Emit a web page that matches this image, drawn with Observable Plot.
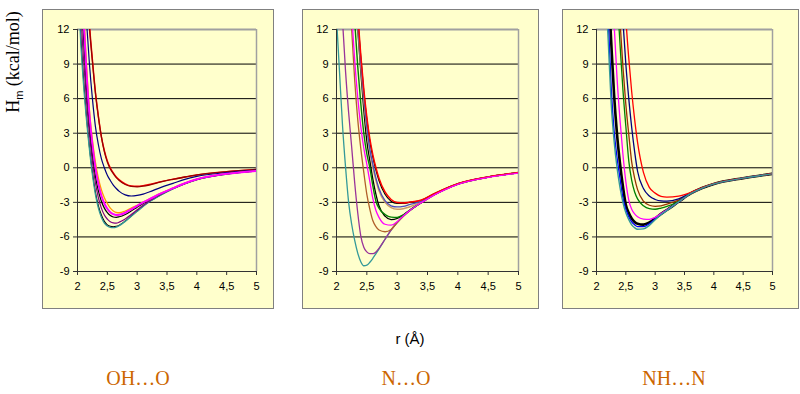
<!DOCTYPE html>
<html><head><meta charset="utf-8">
<script src="https://cdn.jsdelivr.net/npm/d3@7"></script>
<script src="https://cdn.jsdelivr.net/npm/@observablehq/plot@0.6"></script>
<style>
body{margin:0;background:#fff;}
#wrap{position:relative;width:800px;height:394px;overflow:hidden;background:#fff;font-family:"Liberation Sans",Arial,sans-serif;}
.panel{position:absolute;top:9px;}
.panel svg{display:block;outline:1px solid #808080;outline-offset:-1px;}
.lbl{position:absolute;transform:translate(-50%,-50%);white-space:nowrap;}
</style></head><body><div id="wrap"></div><script>
// ---------- data ----------
const panelNames = ["OH…O", "N…O", "NH…N"];
const xTicks = [2, 2.5, 3, 3.5, 4, 4.5, 5];
const xTickLabels = ["2", "2,5", "3", "3,5", "4", "4,5", "5"];
const yTicks = [-9, -6, -3, 0, 3, 6, 9, 12];
const yTickLabels = ["-9", "-6", "-3", "0", "3", "6", "9", "12"];
const rGrid = [2.0,2.05,2.1,2.15,2.2,2.25,2.3,2.35,2.4,2.45,2.5,2.55,2.6,2.65,2.7,2.8,2.9,3.0,3.1,3.2,3.4,3.6,3.8,4.0,4.5,5.0];

// OH...O
const ohRed     = [null,null,null,17,12.5,9.4,6.6,4.5,2.7,1.5,0.6,0.0,-0.45,-0.8,-1.05,-1.4,-1.58,-1.6,-1.55,-1.45,-1.2,-0.98,-0.8,-0.63,-0.35,-0.15];
const ohDarkRed = [null,null,null,16.5,12.2,9.2,6.5,4.4,2.7,1.4,0.5,-0.1,-0.5,-0.85,-1.1,-1.45,-1.62,-1.65,-1.6,-1.5,-1.22,-1.0,-0.8,-0.62,-0.33,-0.13];
const ohNavy    = [null,null,17,12.8,9.0,6.0,3.6,2.0,0.8,0.0,-0.65,-1.1,-1.5,-1.8,-2.05,-2.35,-2.45,-2.4,-2.28,-2.1,-1.7,-1.35,-1.0,-0.75,-0.42,-0.2];
const ohOrange  = [null,20,14,9,5.0,2.4,0.5,-0.9,-1.9,-2.6,-3.1,-3.5,-3.75,-3.88,-3.9,-3.75,-3.5,-3.25,-2.98,-2.72,-2.2,-1.76,-1.33,-0.98,-0.52,-0.26];
const ohMagenta = [null,19,13,8.3,4.6,2.0,0.0,-1.4,-2.4,-3.1,-3.55,-3.85,-4.02,-4.1,-4.08,-3.9,-3.6,-3.3,-3.0,-2.75,-2.22,-1.77,-1.34,-0.99,-0.52,-0.27];
const ohBlack   = [null,17,11.4,7.0,3.7,1.2,-0.7,-2.0,-2.9,-3.5,-3.9,-4.15,-4.27,-4.3,-4.25,-4.05,-3.75,-3.42,-3.1,-2.8,-2.25,-1.78,-1.35,-1.0,-0.53,-0.27];
const ohPurple  = [20,14,9.5,5.8,2.9,0.5,-1.3,-2.6,-3.5,-4.1,-4.45,-4.68,-4.78,-4.8,-4.72,-4.45,-4.05,-3.65,-3.25,-2.9,-2.3,-1.8,-1.37,-1.02,-0.54,-0.28];
const ohBlack2  = [18,12,7.8,4.5,1.8,-0.4,-2.1,-3.3,-4.1,-4.65,-4.95,-5.08,-5.12,-5.08,-4.98,-4.62,-4.18,-3.75,-3.33,-2.96,-2.35,-1.83,-1.38,-1.03,-0.55,-0.28];
const ohTeal    = [17,11.3,7.3,4.2,1.6,-0.6,-2.3,-3.5,-4.3,-4.8,-5.05,-5.18,-5.2,-5.15,-5.02,-4.65,-4.2,-3.78,-3.35,-2.97,-2.35,-1.83,-1.38,-1.03,-0.55,-0.28];

// N...O
const noTeal    = [13,8.3,3.6,0.0,-3.0,-4.9,-6.3,-7.4,-8.15,-8.5,-8.45,-8.2,-7.85,-7.45,-7.05,-6.2,-5.4,-4.75,-4.2,-3.75,-3.02,-2.37,-1.85,-1.42,-0.82,-0.43];
const noPurple  = [null,16,12.7,8.3,4.8,1.8,-1.3,-3.9,-5.9,-6.9,-7.3,-7.45,-7.45,-7.3,-7.0,-6.2,-5.4,-4.75,-4.2,-3.75,-3.02,-2.37,-1.85,-1.42,-0.82,-0.43];
const noBrown   = [null,null,null,null,15.5,12.0,7.6,4.2,1.7,-0.4,-2.3,-3.6,-4.6,-5.1,-5.4,-5.55,-5.35,-4.75,-4.2,-3.75,-3.02,-2.37,-1.85,-1.42,-0.82,-0.43];
const noMagenta = [null,null,null,null,18,13.3,9.3,6.1,3.6,1.7,0.3,-1.2,-2.7,-3.7,-4.3,-4.9,-4.98,-4.68,-4.18,-3.74,-3.02,-2.39,-1.87,-1.44,-0.84,-0.45];
const noGreen   = [null,null,null,null,null,17,12.7,8.8,5.6,3.0,1.2,0.0,-1.6,-2.9,-3.5,-4.05,-4.28,-4.3,-4.1,-3.72,-3.0,-2.36,-1.84,-1.41,-0.81,-0.42];
const noBlack   = [null,null,null,null,null,null,16,12.0,8.4,5.0,2.3,0.6,-1.0,-2.3,-3.3,-4.2,-4.5,-4.4,-4.1,-3.7,-3.0,-2.36,-1.84,-1.41,-0.81,-0.42];
const noTan     = [null,null,null,null,null,null,16.5,12.3,8.8,5.8,3.3,1.4,0.0,-1.1,-2.0,-3.0,-3.45,-3.6,-3.55,-3.4,-2.95,-2.33,-1.82,-1.4,-0.8,-0.42];
const noBlue    = [null,null,null,null,null,null,17,12.7,9.2,6.2,3.6,1.6,0.3,-0.9,-1.8,-2.85,-3.3,-3.4,-3.35,-3.2,-2.9,-2.31,-1.81,-1.39,-0.8,-0.42];
const noRed     = [null,null,null,null,null,null,17.5,13.3,9.8,6.8,4.4,2.5,1.1,0.0,-0.9,-2.1,-2.75,-3.02,-3.05,-2.98,-2.8,-2.27,-1.79,-1.38,-0.79,-0.41];
const noBlack2  = [null,null,null,null,null,null,17,13,9.6,6.6,4.2,2.3,0.9,-0.2,-1.1,-2.3,-2.9,-3.1,-3.1,-3.0,-2.82,-2.28,-1.8,-1.38,-0.79,-0.41];

// NH...N
const nhTeal    = [null,null,null,16,11.0,5.6,2.3,0.0,-1.7,-3.0,-3.9,-4.5,-4.95,-5.2,-5.33,-5.3,-5.0,-4.5,-4.05,-3.7,-2.95,-2.25,-1.76,-1.4,-0.9,-0.52];
const nhBlue    = [null,null,null,18,13,7.0,3.2,0.9,-0.9,-2.6,-3.6,-4.25,-4.7,-4.95,-5.1,-5.1,-4.85,-4.45,-4.03,-3.68,-2.95,-2.25,-1.76,-1.4,-0.9,-0.52];
const nhBlack   = [null,null,null,null,16,11,6.3,2.9,0.4,-1.6,-3.2,-3.9,-4.4,-4.7,-4.85,-4.93,-4.75,-4.4,-4.0,-3.66,-2.95,-2.25,-1.76,-1.4,-0.9,-0.52];
const nhMagenta = [null,null,null,null,null,17,12.5,7.8,4.2,1.2,-1.2,-2.8,-3.6,-4.0,-4.25,-4.45,-4.48,-4.3,-3.98,-3.65,-2.95,-2.25,-1.76,-1.4,-0.9,-0.52];
const nhGreen   = [null,null,null,null,null,null,null,15,10.8,6.8,3.6,0.6,-1.1,-2.1,-2.7,-3.3,-3.55,-3.6,-3.5,-3.35,-2.9,-2.24,-1.76,-1.4,-0.9,-0.52];
const nhBrown   = [null,null,null,null,null,null,null,17,12.8,8.8,5.5,2.9,0.5,-0.9,-1.9,-2.9,-3.25,-3.34,-3.3,-3.15,-2.8,-2.22,-1.75,-1.4,-0.9,-0.52];
const nhNavy    = [null,null,null,null,null,null,null,null,17,12.8,9.0,6.0,3.5,1.4,-0.3,-1.8,-2.45,-2.75,-2.88,-2.9,-2.7,-2.2,-1.74,-1.39,-0.9,-0.52];
const nhRed     = [null,null,null,null,null,null,null,null,null,18,13,9.5,6.6,4.2,2.2,-0.4,-1.7,-2.2,-2.48,-2.55,-2.45,-2.15,-1.73,-1.38,-0.89,-0.51];

// ---------- series setup (colors / widths), in drawing order ----------
const panels = [
  {left:42, width:232, ml:35, mr:18, series:[
    [ohRed,"#FF0000",1.4],[ohDarkRed,"#990000",1.3],[ohNavy,"#000080",1.2],
    [ohBlack2,"#000000",1.1],[ohTeal,"#339999",1.3],[ohPurple,"#800080",1.2],
    [ohBlack,"#000000",1.2],[ohOrange,"#FF9900",1.3],[ohMagenta,"#FF00FF",2]]},
  {left:302, width:237, ml:34, mr:21, series:[
    [noBlack2,"#000000",1.2],[noBlack,"#000000",1.3],[noTeal,"#339999",1.3],[noPurple,"#993399",1.3],
    [noBrown,"#B0602A",1.3],[noGreen,"#008000",1.4],
    [noTan,"#CC9966",1.4],[noBlue,"#4A4ABF",1.3],[noRed,"#FF0000",1.5],[noMagenta,"#FF00FF",1.3]]},
  {left:562, width:237, ml:34, mr:27, series:[
    [nhBlack,"#000000",2.6],[nhBlue,"#0000FF",1.3],[nhMagenta,"#FF00FF",1.3],
    [nhGreen,"#008000",1.3],[nhBrown,"#993300",1.3],[nhNavy,"#000080",1.3],
    [nhRed,"#FF0000",1.3],[nhTeal,"#339999",1.4]]}
];

const wrap = document.getElementById("wrap");
const fmtX = d => xTickLabels[xTicks.indexOf(d)];
const fmtY = d => yTickLabels[yTicks.indexOf(d)];

panels.forEach((p) => {
  const lineMarks = p.series.map(([vals, color, w]) => {
    const rows = rGrid.map((r, i) => ({r, v: vals[i]})).filter(d => d.v != null);
    return Plot.line(rows, {x: "r", y: "v", stroke: color, strokeWidth: w, curve: "monotone-x", clip: true});
  });
  const svg = Plot.plot({
    width: p.width, height: 300,
    marginLeft: p.ml, marginRight: p.mr, marginTop: 20, marginBottom: 38,
    x: {domain: [2, 5]},
    y: {domain: [-9, 12]},
    style: {background: "#FFFFCC", fontFamily: "'Liberation Sans', Arial, sans-serif", fontSize: "11px", color: "#000"},
    marks: [
      Plot.ruleY(yTicks.filter(d => d > -9 && d < 12), {stroke: "#000", strokeWidth: 1}),
      Plot.ruleY([12], {stroke: "#A0A0A0", strokeWidth: 2}),
      Plot.ruleX([5], {stroke: "#A0A0A0", strokeWidth: 1.5}),
      ...lineMarks,
      Plot.ruleX([2], {stroke: "#333", strokeWidth: 1}),
      Plot.ruleY([-9], {stroke: "#333", strokeWidth: 1}),
      Plot.axisY({ticks: yTicks, tickFormat: fmtY, tickSize: 4, tickPadding: 4, label: null, stroke: "#333"}),
      Plot.axisX({ticks: xTicks, tickFormat: fmtX, tickSize: 4, tickPadding: 7, label: null, stroke: "#333"})
    ]
  });
  const div = document.createElement("div");
  div.className = "panel";
  div.style.left = p.left + "px";
  div.appendChild(svg);
  wrap.appendChild(div);
});

// ---------- text ----------
function addLabel(html, x, y, css) {
  const d = document.createElement("div");
  d.className = "lbl";
  d.style.left = x + "px"; d.style.top = y + "px";
  Object.assign(d.style, css);
  d.innerHTML = html;
  wrap.appendChild(d);
}
addLabel("H<sub style='font-size:11px;font-family:Liberation Sans,Arial'>m</sub> (kcal/mol)", 14, 62,
  {fontFamily: "'Liberation Serif','Times New Roman',serif", fontSize: "18px", transform: "translate(-50%,-50%) rotate(-90deg)"});
addLabel("r (Å)", 410, 338, {fontSize: "15px", fontFamily: "'Liberation Sans',Arial,sans-serif"});
const labelX = [138, 406, 674];
panelNames.forEach((n, i) => addLabel(n, labelX[i], 378,
  {fontFamily: "'Liberation Serif','Times New Roman',serif", fontSize: "20px", color: "#CC6600"}));
</script></body></html>
